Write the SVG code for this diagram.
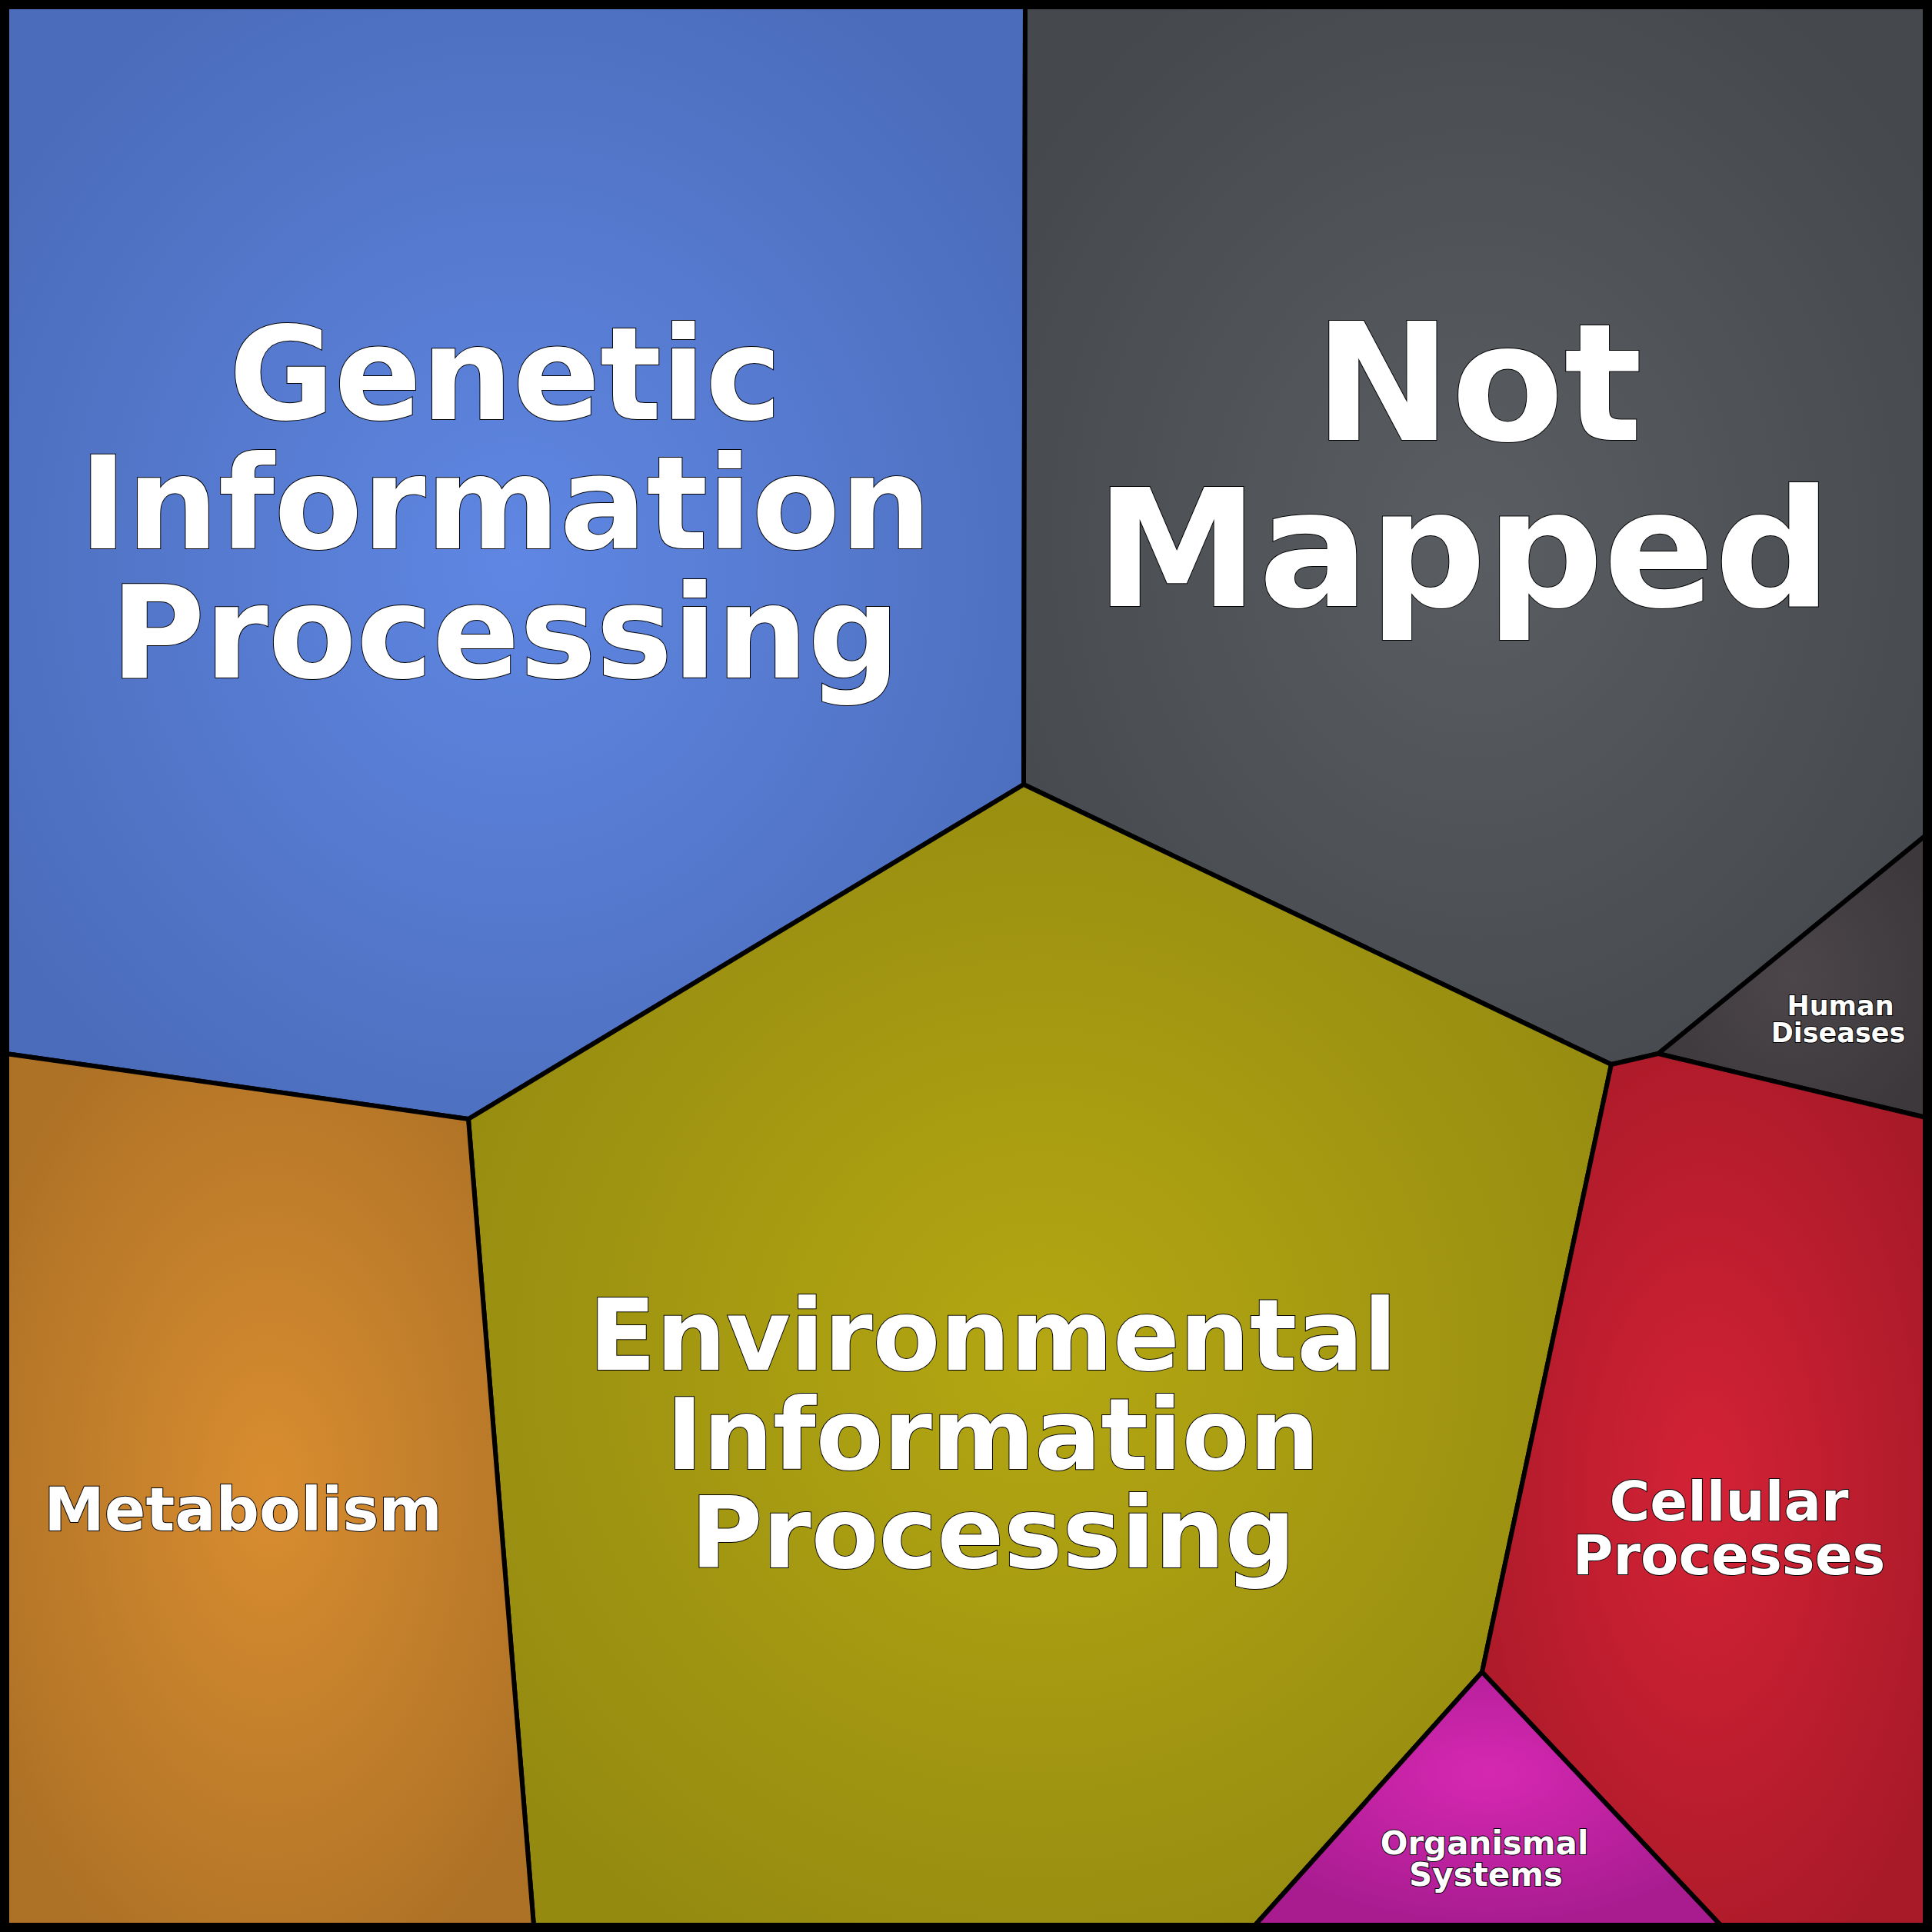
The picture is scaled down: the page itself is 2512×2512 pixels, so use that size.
<svg xmlns="http://www.w3.org/2000/svg" width="2512" height="2512" viewBox="0 0 2512 2512">
<defs>
<radialGradient id="gBlue" cx="0.5" cy="0.5" r="0.6"><stop offset="0" stop-color="#5f87e3"/><stop offset="1" stop-color="#4b6cba"/></radialGradient>
<radialGradient id="gGray" cx="0.5" cy="0.5" r="0.6"><stop offset="0" stop-color="#5a5e62"/><stop offset="1" stop-color="#45494e"/></radialGradient>
<radialGradient id="gOlive" cx="0.5" cy="0.5" r="0.6"><stop offset="0" stop-color="#b4a712"/><stop offset="1" stop-color="#948a10"/></radialGradient>
<radialGradient id="gOrange" cx="0.5" cy="0.5" r="0.6"><stop offset="0" stop-color="#d98d30"/><stop offset="1" stop-color="#ae7226"/></radialGradient>
<radialGradient id="gRed" cx="0.5" cy="0.5" r="0.6"><stop offset="0" stop-color="#d42236"/><stop offset="1" stop-color="#a91a28"/></radialGradient>
<radialGradient id="gMag" cx="0.5" cy="0.4" r="0.6"><stop offset="0" stop-color="#d628b2"/><stop offset="1" stop-color="#a81c90"/></radialGradient>
<radialGradient id="gHum" cx="0.5" cy="0.5" r="0.6"><stop offset="0" stop-color="#4c464a"/><stop offset="1" stop-color="#3c383c"/></radialGradient>
</defs>
<style>
.cell{stroke:#000;stroke-width:6;stroke-linejoin:round}
text{font-family:"DejaVu Sans",sans-serif;font-weight:bold;fill:#fff;stroke:#000;stroke-width:2;paint-order:stroke;text-anchor:middle}
</style>
<g id="genetic"><polygon class="cell" fill="url(#gBlue)" points="8,8 1333,8 1331,1020 609,1455 8,1370"/>
<text font-size="167"><tspan x="657" y="545">Genetic</tspan><tspan x="657" y="713">Information</tspan><tspan x="657" y="881">Processing</tspan></text></g>
<g id="notmapped"><polygon class="cell" fill="url(#gGray)" points="1333,8 2504,8 2504,1086 2156,1370 2095,1384 1331,1020"/>
<text font-size="213"><tspan x="1922" y="572">Not</tspan><tspan x="1903" y="788">Mapped</tspan></text></g>
<g id="environmental"><polygon class="cell" fill="url(#gOlive)" points="1331,1020 2095,1384 1927,2174 1631,2504 694,2504 609,1455"/>
<text font-size="128"><tspan x="1291" y="1781">Environmental</tspan><tspan x="1291" y="1910">Information</tspan><tspan x="1291" y="2038">Processing</tspan></text></g>
<g id="metabolism"><polygon class="cell" fill="url(#gOrange)" points="8,1370 609,1455 694,2504 8,2504"/>
<text font-size="79" x="316" y="1990">Metabolism</text></g>
<g id="human"><polygon class="cell" fill="url(#gHum)" points="2504,1086 2504,1453 2156,1370"/>
<text font-size="35"><tspan x="2393" y="1320">Human</tspan><tspan x="2390" y="1355">Diseases</tspan></text></g>
<g id="cellular"><polygon class="cell" fill="url(#gRed)" points="2156,1370 2504,1453 2504,2504 2238,2504 1927,2174 2095,1384"/>
<text font-size="72"><tspan x="2248" y="1977">Cellular</tspan><tspan x="2248" y="2047">Processes</tspan></text></g>
<g id="organismal"><polygon class="cell" fill="url(#gMag)" points="1927,2174 2238,2504 1631,2504"/>
<text font-size="42"><tspan x="1930" y="2411">Organismal</tspan><tspan x="1932" y="2452">Systems</tspan></text></g>
<g id="connectors"></g>
<rect x="6" y="6" width="2500" height="2500" fill="none" stroke="#000" stroke-width="12"/>
</svg>
